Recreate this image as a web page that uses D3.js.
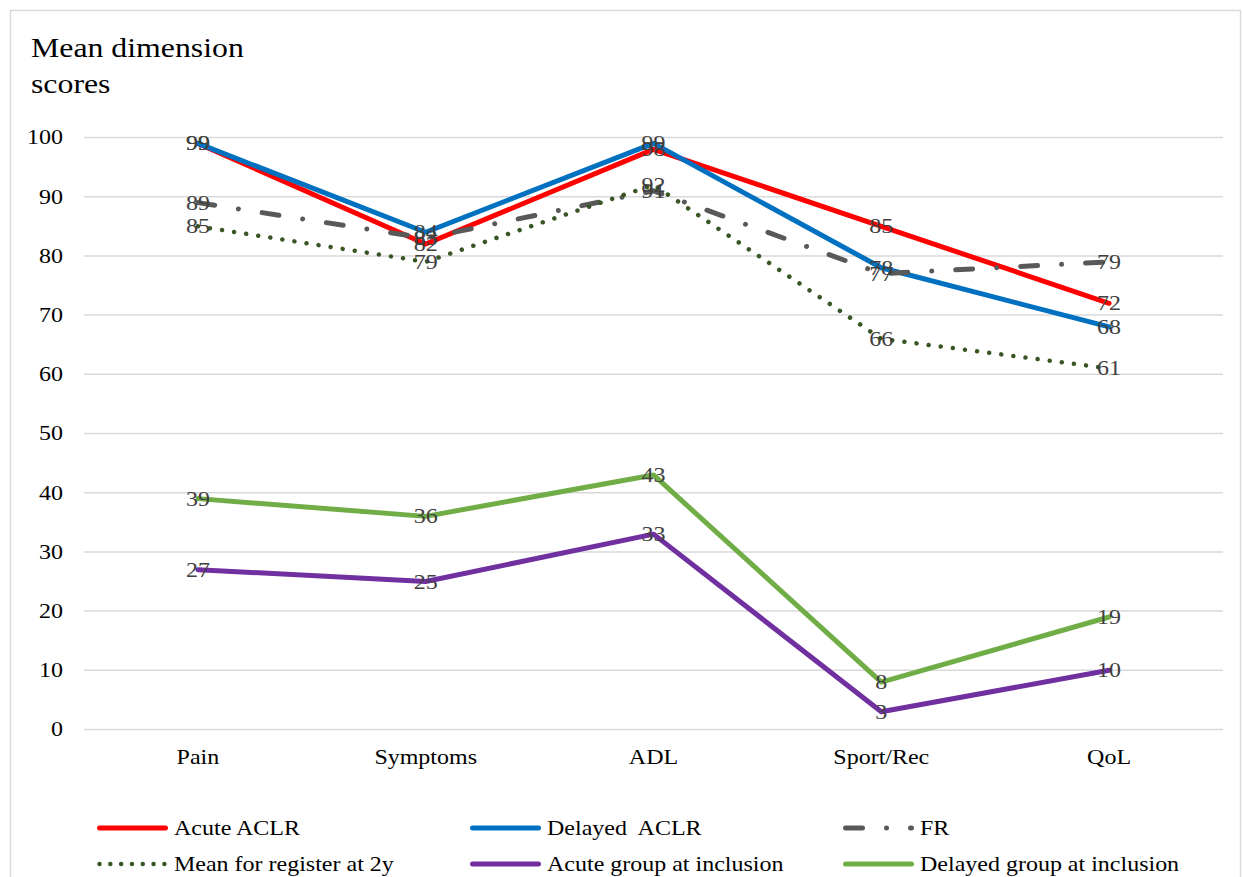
<!DOCTYPE html>
<html>
<head>
<meta charset="utf-8">
<script src="https://cdn.jsdelivr.net/npm/d3@7"></script>
<style>
  html, body { margin: 0; padding: 0; background: #fff; }
  svg { display: block; font-family: "Liberation Serif", "Times New Roman", serif; }
  text { white-space: pre; }
</style>
</head>
<body>
<svg id="chart" width="1242" height="877"></svg>
<script>
// ---- data ----
const categories = ["Pain", "Symptoms", "ADL", "Sport/Rec", "QoL"];
const acuteACLR = [99, 82, 98, 85, 72];
const delayedACLR = [99, 84, 99, 78, 68];
const fr = [89, 83, 91, 77, 79];
const registerMean2y = [85, 79, 92, 66, 61];
const acuteInclusion = [27, 25, 33, 3, 10];
const delayedInclusion = [39, 36, 43, 8, 19];
const yTicks = [0, 10, 20, 30, 40, 50, 60, 70, 80, 90, 100];
const seriesNames = ["Acute ACLR", "Delayed  ACLR", "FR", "Mean for register at 2y", "Acute group at inclusion", "Delayed group at inclusion"];

const series = [
  { name: seriesNames[0], values: acuteACLR, color: "#FF0000", width: 5, dash: null },
  { name: seriesNames[1], values: delayedACLR, color: "#0070C0", width: 5, dash: null },
  { name: seriesNames[2], values: fr, color: "#595959", width: 5, dash: "17 24 0.01 24" },
  { name: seriesNames[3], values: registerMean2y, color: "#375623", width: 4.5, dash: "0.01 12.2" },
  { name: seriesNames[4], values: acuteInclusion, color: "#7030A0", width: 5, dash: null },
  { name: seriesNames[5], values: delayedInclusion, color: "#70AD47", width: 5, dash: null }
];

const SX = 1.2; // horizontal stretch of text seen in the reference
const svg = d3.select("#chart");

function stretchedText(parent, x, y, str, size, fill, anchor) {
  return parent.append("text")
    .attr("transform", `translate(${x},${y}) scale(${SX},1)`)
    .attr("font-size", size).attr("fill", fill)
    .attr("text-anchor", anchor || "start")
    .attr("dy", "0.35em")
    .text(str);
}

// chart border
svg.append("rect")
  .attr("x", 10.5).attr("y", 10.5)
  .attr("width", 1230).attr("height", 900)
  .attr("fill", "none").attr("stroke", "#d9d9d9").attr("stroke-width", 1.5);

// title
svg.append("text").attr("transform", `translate(31,57) scale(${SX},1)`)
  .attr("font-size", 26.5).attr("fill", "#000").text("Mean dimension");
svg.append("text").attr("transform", `translate(31,93) scale(${SX},1)`)
  .attr("font-size", 26.5).attr("fill", "#000").text("scores");

const plotLeft = 84, plotRight = 1223, plotTop = 137.5, plotBottom = 729.5;

const x = d3.scaleBand().domain(categories).range([plotLeft, plotRight]).padding(0);
const y = d3.scaleLinear().domain([0, 100]).range([plotBottom, plotTop]);
const cx = c => x(c) + x.bandwidth() / 2;

// gridlines
svg.append("g").selectAll("line").data(yTicks).join("line")
  .attr("x1", plotLeft).attr("x2", plotRight)
  .attr("y1", d => y(d)).attr("y2", d => y(d))
  .attr("stroke", "#d9d9d9").attr("stroke-width", 1.5);

// y axis labels
const yAxis = d3.axisLeft(y).tickValues(yTicks).tickSize(0).tickPadding(0);
const yg = svg.append("g").attr("transform", `translate(63,0)`).call(yAxis);
yg.select(".domain").remove();
yg.selectAll("text").attr("font-size", 20).attr("fill", "#000")
  .attr("font-family", "Liberation Serif, Times New Roman, serif")
  .attr("transform", `scale(${SX},1)`);

// x axis labels
const xAxis = d3.axisBottom(x).tickSize(0).tickPadding(0);
const xg = svg.append("g").attr("transform", `translate(0,750)`).call(xAxis);
xg.select(".domain").remove();
xg.selectAll("text").attr("font-size", 20).attr("fill", "#000")
  .attr("font-family", "Liberation Serif, Times New Roman, serif")
  .attr("transform", `scale(${SX},1)`);

// lines
const line = d3.line().x((d, i) => cx(categories[i])).y(d => y(d));
series.forEach(s => {
  svg.append("path")
    .attr("d", line(s.values))
    .attr("fill", "none")
    .attr("stroke", s.color)
    .attr("stroke-width", s.width)
    .attr("stroke-linecap", "round")
    .attr("stroke-linejoin", "round")
    .attr("stroke-dasharray", s.dash);
});

// data labels
series.forEach(s => {
  const g = svg.append("g");
  s.values.forEach((d, i) => {
    stretchedText(g, cx(categories[i]), y(d), String(d), 20, "#404040", "middle");
  });
});

// legend
const legendCols = [97, 470, 843];
const legendRows = [828, 864];
series.forEach((s, i) => {
  const lx = legendCols[i % 3];
  const ly = legendRows[Math.floor(i / 3)];
  const g = svg.append("g");
  g.append("line")
    .attr("x1", lx + 2.5).attr("x2", lx + 68.5)
    .attr("y1", ly).attr("y2", ly)
    .attr("stroke", s.color)
    .attr("stroke-width", s.width)
    .attr("stroke-linecap", "round")
    .attr("stroke-dasharray", i === 2 ? "17 24 0.01 24" : (i === 3 ? "0.01 10.8" : null));
  stretchedText(g, lx + 77, ly, s.name, 20, "#000", "start");
});
</script>
</body>
</html>
